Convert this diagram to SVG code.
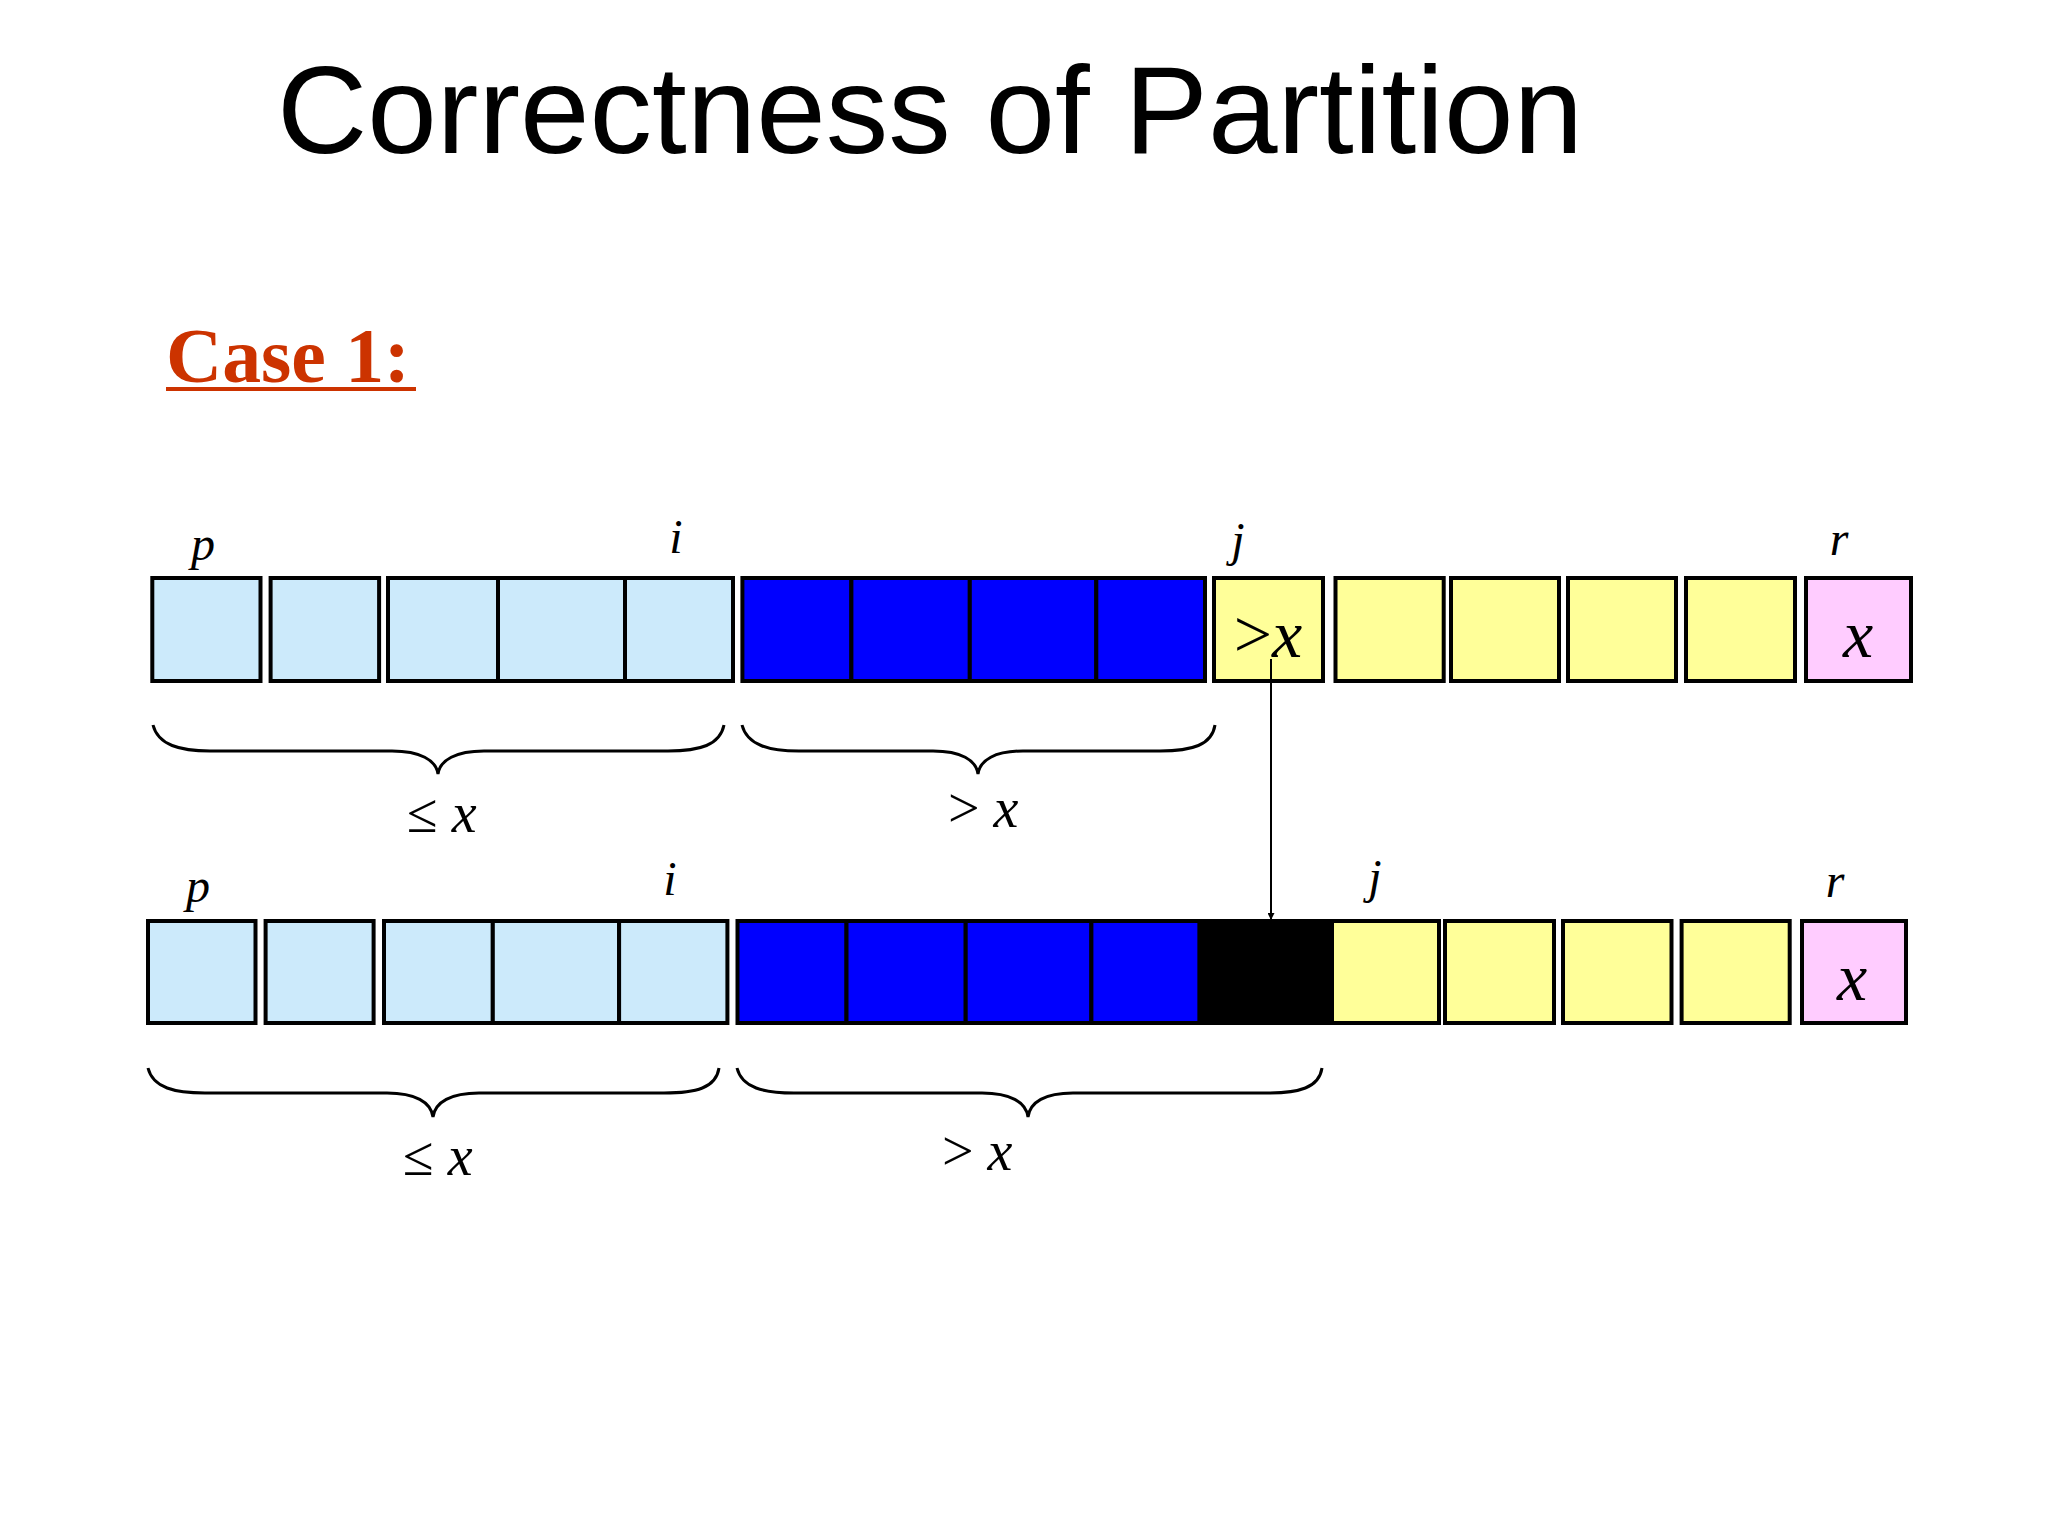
<svg xmlns="http://www.w3.org/2000/svg" width="2048" height="1536" viewBox="0 0 2048 1536">
<style>
.cell{stroke:#000;stroke-width:4}
.lb{fill:#CCEAFB}
.bl{fill:#0000FF}
.yl{fill:#FFFF99}
.pk{fill:#FFCCFF}
.bk{fill:#000}
.lab{font-family:"Liberation Serif",serif;font-style:italic;font-size:48px;fill:#000}
.math{font-family:"Liberation Serif",serif;font-size:56px;fill:#000}
.inbox{font-family:"Liberation Serif",serif;font-size:68px;fill:#000}
.it{font-style:italic}
.brace{fill:none;stroke:#000;stroke-width:3}
.conn{stroke:#000;stroke-width:2;fill:none}
</style>
<defs>
<marker id="ah" viewBox="0 0 10 10" refX="10" refY="5" markerWidth="7" markerHeight="7" orient="auto" markerUnits="userSpaceOnUse">
<path d="M0,0 L10,5 L0,10 z" fill="#000"/>
</marker>
</defs>
<rect width="2048" height="1536" fill="#fff"/>
<text x="277" y="153" font-family="Liberation Sans,Arial,sans-serif" font-size="125" fill="#000">Correctness of Partition</text>
<g id="case1">
<text x="166" y="382" font-family="Liberation Serif,serif" font-weight="bold" font-size="78" fill="#CC3300" textLength="244" lengthAdjust="spacingAndGlyphs">Case 1:</text>
<rect x="166" y="387" width="250" height="4" fill="#CC3300"/>
</g>
<g id="row1">
<g id="t1"><rect class="cell lb" x="152.3" y="578" width="108.2" height="103"/></g>
<g id="t2"><rect class="cell lb" x="270.6" y="578" width="108.5" height="103"/></g>
<g id="t3"><rect class="cell lb" x="388" y="578" width="110" height="103"/></g>
<g id="t4"><rect class="cell lb" x="498" y="578" width="127" height="103"/></g>
<g id="t5"><rect class="cell lb" x="625" y="578" width="108" height="103"/></g>
<g id="t6"><rect class="cell bl" x="742.4" y="578" width="109" height="103"/></g>
<g id="t7"><rect class="cell bl" x="851.4" y="578" width="118.4" height="103"/></g>
<g id="t8"><rect class="cell bl" x="969.8" y="578" width="126.5" height="103"/></g>
<g id="t9"><rect class="cell bl" x="1096.3" y="578" width="108.7" height="103"/></g>
<g id="t10"><rect class="cell yl" x="1214" y="578" width="109" height="103"/><text class="inbox" x="1268" y="657" text-anchor="middle">&gt;<tspan class="it">x</tspan></text></g>
<g id="t11"><rect class="cell yl" x="1335.5" y="578" width="108.2" height="103"/></g>
<g id="t12"><rect class="cell yl" x="1451" y="578" width="108" height="103"/></g>
<g id="t13"><rect class="cell yl" x="1568" y="578" width="108" height="103"/></g>
<g id="t14"><rect class="cell yl" x="1686" y="578" width="109" height="103"/></g>
<g id="t15"><rect class="cell pk" x="1806" y="578" width="105" height="103"/><text class="inbox it" x="1858" y="657" text-anchor="middle">x</text></g>
<text class="lab" x="203" y="560" text-anchor="middle">p</text>
<text class="lab" x="676" y="553" text-anchor="middle">i</text>
<text class="lab" x="1238" y="556" text-anchor="middle">j</text>
<text class="lab" x="1839" y="555" text-anchor="middle">r</text>
</g>
<g id="row2">
<g id="b1"><rect class="cell lb" x="148" y="921" width="107.5" height="102"/></g>
<g id="b2"><rect class="cell lb" x="265.6" y="921" width="108" height="102"/></g>
<g id="b3"><rect class="cell lb" x="384" y="921" width="108.8" height="102"/></g>
<g id="b4"><rect class="cell lb" x="492.8" y="921" width="126.3" height="102"/></g>
<g id="b5"><rect class="cell lb" x="619.1" y="921" width="108.3" height="102"/></g>
<g id="b6"><rect class="cell bl" x="737.5" y="921" width="109" height="102"/></g>
<g id="b7"><rect class="cell bl" x="846.5" y="921" width="119.2" height="102"/></g>
<g id="b8"><rect class="cell bl" x="965.7" y="921" width="125.7" height="102"/></g>
<g id="b9"><rect class="cell bl" x="1091.4" y="921" width="108.2" height="102"/></g>
<g id="b10"><rect class="cell bk" x="1199.6" y="921" width="132.4" height="102"/></g>
<g id="b11"><rect class="cell yl" x="1332" y="921" width="107" height="102"/></g>
<g id="b12"><rect class="cell yl" x="1445" y="921" width="109" height="102"/></g>
<g id="b13"><rect class="cell yl" x="1563" y="921" width="108.5" height="102"/></g>
<g id="b14"><rect class="cell yl" x="1681.6" y="921" width="108.1" height="102"/></g>
<g id="b15"><rect class="cell pk" x="1802" y="921" width="104" height="102"/><text class="inbox it" x="1852" y="1000" text-anchor="middle">x</text></g>
<text class="lab" x="198" y="902" text-anchor="middle">p</text>
<text class="lab" x="670" y="895" text-anchor="middle">i</text>
<text class="lab" x="1375" y="893" text-anchor="middle">j</text>
<text class="lab" x="1835" y="897" text-anchor="middle">r</text>
</g>
<g id="braces">
<path class="brace" d="M153,725 C158,745 180,751 210,751 L392,751 C420,751 436,760 438,774 C440,760 456,751 484,751 L668,751 C700,751 720,745 724,725"/>
<path class="brace" d="M742,725 C747,745 769,751 799,751 L933,751 C961,751 976,760 978,774 C980,760 995,751 1023,751 L1160,751 C1192,751 1212,745 1215,725"/>
<path class="brace" d="M148,1068 C153,1088 175,1093 205,1093 L387,1093 C415,1093 431,1102 433,1117 C435,1102 451,1093 479,1093 L664,1093 C696,1093 716,1088 719,1068"/>
<path class="brace" d="M737,1068 C742,1088 764,1093 794,1093 L982,1093 C1010,1093 1026,1102 1028,1117 C1030,1102 1045,1093 1073,1093 L1267,1093 C1299,1093 1319,1088 1322,1068"/>
<text class="math" x="407" y="832">≤ <tspan class="it">x</tspan></text>
<text class="math" x="948" y="827">&gt; <tspan class="it">x</tspan></text>
<text class="math" x="403" y="1175">≤ <tspan class="it">x</tspan></text>
<text class="math" x="942" y="1170">&gt; <tspan class="it">x</tspan></text>
</g>
<g id="connectors">
<line class="conn" x1="1271" y1="659" x2="1271" y2="920" marker-end="url(#ah)"/>
</g>
</svg>
